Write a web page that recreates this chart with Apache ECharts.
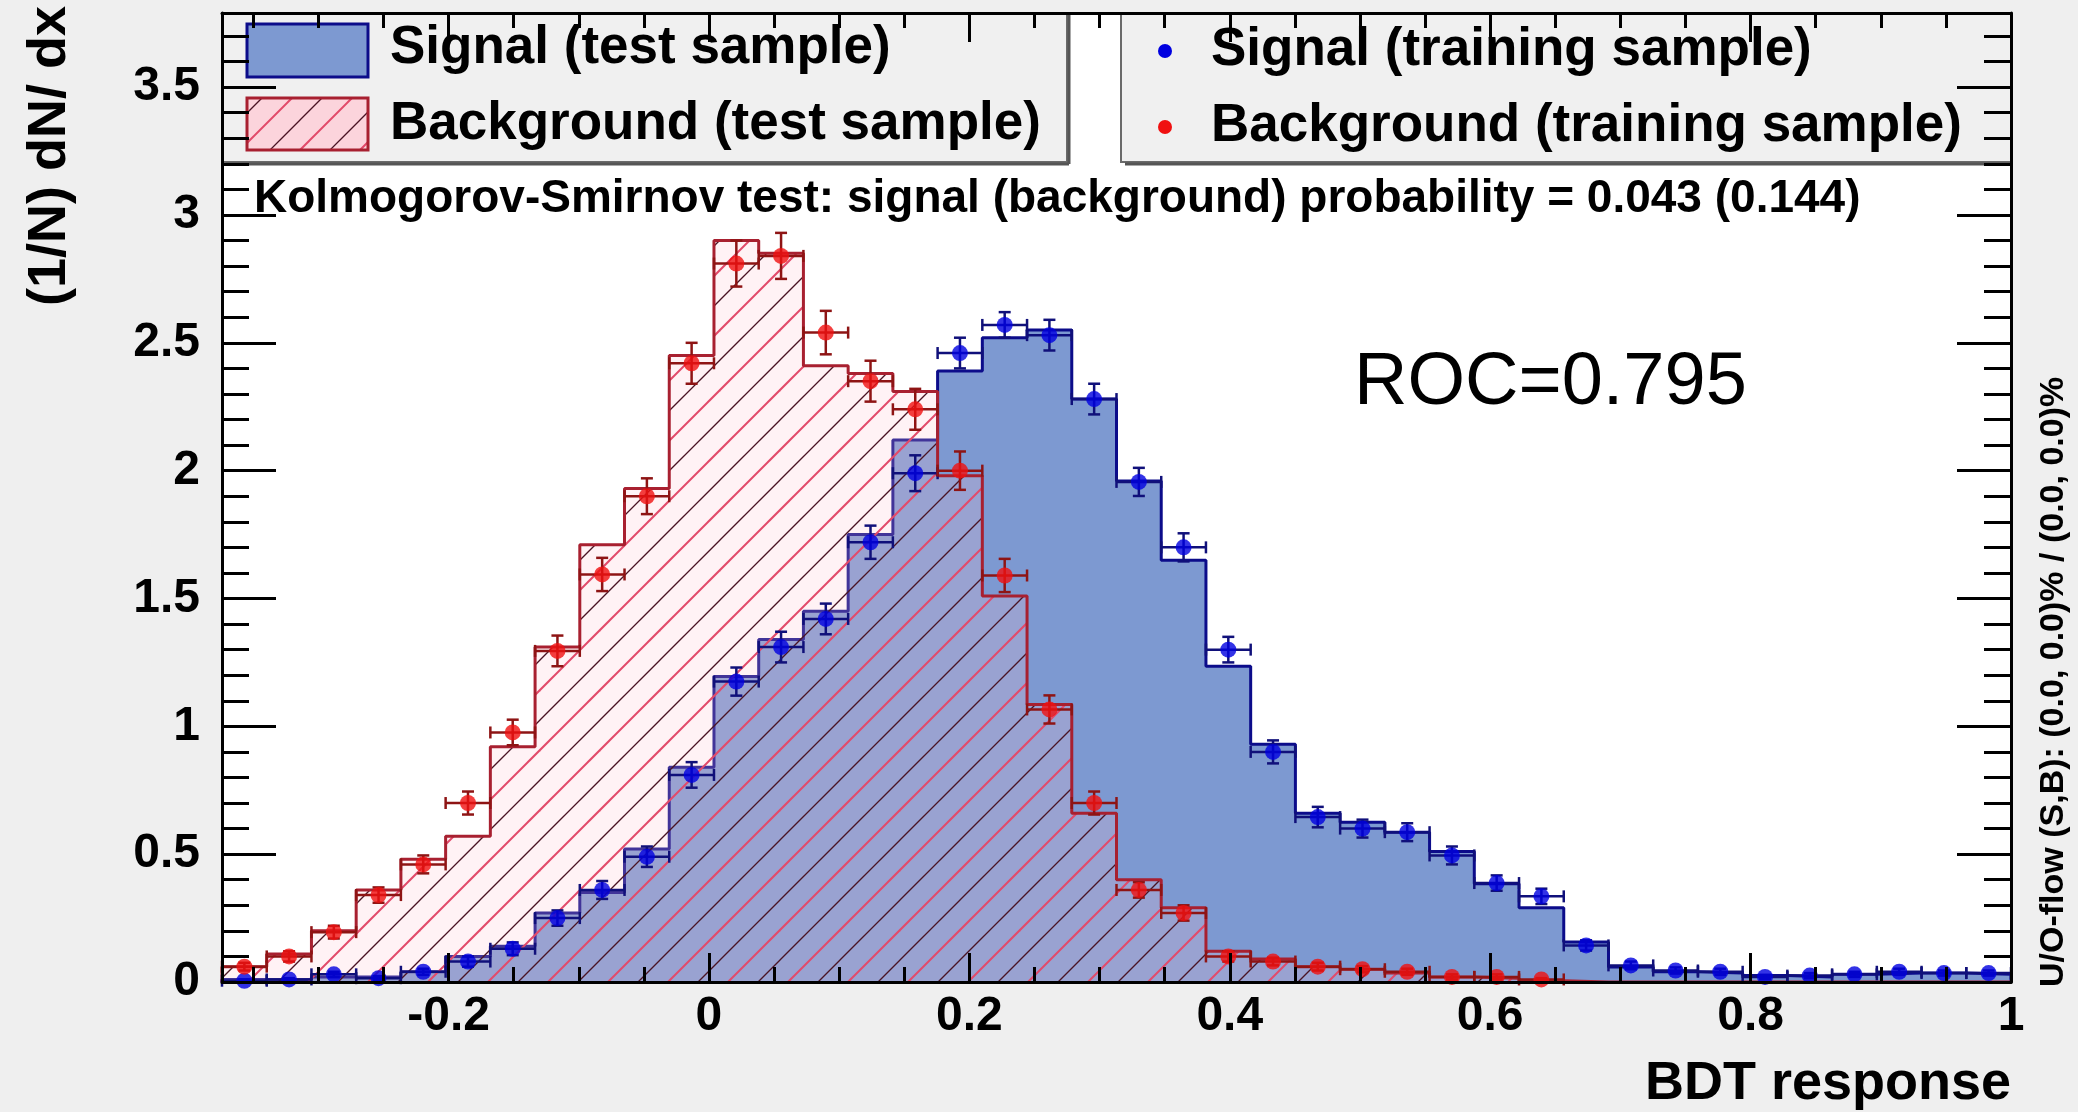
<!DOCTYPE html>
<html><head><meta charset="utf-8">
<script src="https://cdn.jsdelivr.net/npm/echarts@6/dist/echarts.min.js"></script>
<style>html,body{margin:0;padding:0;background:#efefef;}#c{width:2078px;height:1112px;}</style>
</head><body><div id="c"></div>
<script>
// ---------- data ----------
const XMIN = -0.374, XMAX = 1.0, NBINS = 40;
const YMIN = 0, YMAX = 3.79;
const xMajorTicks = [-0.2, 0, 0.2, 0.4, 0.6, 0.8, 1];
const xMinorTicks = [-0.35, -0.3, -0.25, -0.15, -0.1, -0.05, 0.05, 0.1, 0.15, 0.25, 0.3, 0.35, 0.45, 0.5, 0.55, 0.65, 0.7, 0.75, 0.85, 0.9, 0.95];
const yMajorTicks = [0, 0.5, 1, 1.5, 2, 2.5, 3, 3.5];
const yMinorTicks = [0.1, 0.2, 0.3, 0.4, 0.6, 0.7, 0.8, 0.9, 1.1, 1.2, 1.3, 1.4, 1.6, 1.7, 1.8, 1.9, 2.1, 2.2, 2.3, 2.4, 2.6, 2.7, 2.8, 2.9, 3.1, 3.2, 3.3, 3.4, 3.6, 3.7];

// Signal (test sample) histogram, 40 bins
const sigHist = [0.01, 0.01, 0.02, 0.02, 0.04, 0.10, 0.14, 0.27, 0.35, 0.52,
                 0.84, 1.195, 1.34, 1.45, 1.75, 2.12, 2.39, 2.52, 2.55, 2.28,
                 1.96, 1.65, 1.235, 0.93, 0.66, 0.625, 0.586, 0.51, 0.384, 0.29,
                 0.156, 0.059, 0.04, 0.035, 0.025, 0.02, 0.03, 0.035, 0.035, 0.03];
// Background (test sample) histogram
const bkgHist = [0.06, 0.11, 0.20, 0.36, 0.48, 0.57, 0.92, 1.31, 1.71, 1.93,
                 2.45, 2.90, 2.85, 2.41, 2.38, 2.31, 1.98, 1.51, 1.085, 0.66,
                 0.40, 0.29, 0.12, 0.09, 0.06, 0.05, 0.035, 0.02, 0.015, 0.005,
                 0, 0, 0, 0, 0, 0, 0, 0, 0, 0];
// Signal (training sample) points and errors
const sigPts = [0.005, 0.01, 0.03, 0.015, 0.04, 0.08, 0.13, 0.25, 0.36, 0.49,
                0.81, 1.175, 1.31, 1.42, 1.72, 1.99, 2.46, 2.57, 2.53, 2.28,
                1.956, 1.70, 1.30, 0.90, 0.645, 0.60, 0.586, 0.495, 0.387, 0.335,
                0.143, 0.065, 0.045, 0.04, 0.02, 0.025, 0.03, 0.04, 0.035, 0.035];
const sigErr = [0.005, 0.005, 0.01, 0.008, 0.012, 0.02, 0.025, 0.03, 0.035, 0.04,
                0.05, 0.055, 0.06, 0.06, 0.065, 0.07, 0.06, 0.05, 0.06, 0.06,
                0.055, 0.055, 0.05, 0.045, 0.04, 0.035, 0.035, 0.035, 0.03, 0.03,
                0.02, 0.015, 0.012, 0.012, 0.008, 0.01, 0.01, 0.012, 0.01, 0.01];
// Background (training sample) points and errors (null = empty bin)
const bkgPts = [0.06, 0.10, 0.195, 0.34, 0.46, 0.70, 0.976, 1.295, 1.594, 1.90,
                2.42, 2.81, 2.84, 2.54, 2.35, 2.24, 2.00, 1.59, 1.066, 0.70,
                0.36, 0.27, 0.10, 0.08, 0.06, 0.05, 0.04, 0.02, 0.02, 0.01,
                null, null, null, null, null, null, null, null, null, null];
const bkgErr = [0.015, 0.02, 0.025, 0.03, 0.035, 0.045, 0.05, 0.06, 0.065, 0.07,
                0.08, 0.09, 0.09, 0.085, 0.08, 0.08, 0.075, 0.065, 0.055, 0.045,
                0.03, 0.03, 0.02, 0.015, 0.015, 0.012, 0.012, 0.01, 0.01, 0.005,
                0, 0, 0, 0, 0, 0, 0, 0, 0, 0];

const legendTest = ['Signal (test sample)', 'Background (test sample)'];
const legendTrain = ['Signal (training sample)', 'Background (training sample)'];
const ksText = 'Kolmogorov-Smirnov test: signal (background) probability = 0.043 (0.144)';
const rocText = 'ROC=0.795';
const xTitle = 'BDT response';
const yTitle = '(1/N) dN/ dx';
const flowText = 'U/O-flow (S,B): (0.0, 0.0)% / (0.0, 0.0)%';

// ---------- derived ----------
const BW = (XMAX - XMIN) / NBINS;
const edges = Array.from({length: NBINS + 1}, (_, k) => XMIN + k * BW);
const centers = Array.from({length: NBINS}, (_, k) => XMIN + (k + 0.5) * BW);
function histLine(vals) {
  const d = [[edges[0], 0]];
  vals.forEach((v, i) => d.push([edges[i], v]));
  d.push([edges[NBINS], vals[NBINS - 1]]);
  d.push([edges[NBINS], 0]);
  return d;
}
function pts(vals, errs) {
  const out = [];
  vals.forEach((v, i) => { if (v !== null) out.push([centers[i], v, errs[i]]); });
  return out;
}

const FONT = '"Liberation Sans", Arial, Helvetica, sans-serif';
const SIG_FILL = '#7d99d1', SIG_LINE = '#0c0c8a', SIG_MARK = '#0000e0', SIG_ERR = '#10107a';
const BKG_LINE = '#a82030', BKG_MARK = '#f01010', BKG_ERR = '#8e1414';

function makeHatch(tint) {
  const T = 60, c = document.createElement('canvas');
  c.width = T; c.height = T;
  const g = c.getContext('2d');
  if (tint) { g.fillStyle = tint; g.fillRect(0, 0, T, T); }
  const lines = [[0, '#4a1424', 1.3], [30, '#e24a6a', 2.0], [60, '#4a1424', 1.3], [90, '#e24a6a', 2.0], [120, '#4a1424', 1.3]];
  for (const [cc, col, w] of lines) {
    g.strokeStyle = col; g.lineWidth = w;
    g.beginPath(); g.moveTo(-6, cc + 6); g.lineTo(T + 6, cc - T - 6); g.stroke();
  }
  return c;
}
const hatch = makeHatch('rgba(255,195,210,0.22)');
const hatchLegend = makeHatch('rgba(255,205,215,0.8)');

function errRender(color) {
  return function (params, api) {
    const x = api.value(0), y = api.value(1), e = api.value(2);
    const c = api.coord([x, y]);
    const l = api.coord([x - BW / 2, y]), r = api.coord([x + BW / 2, y]);
    const t = api.coord([x, y + e]), b = api.coord([x, Math.max(0, y - e)]);
    const cap = 6;
    const st = {stroke: color, lineWidth: 2.5};
    const ch = [
      {type: 'line', shape: {x1: l[0], y1: c[1], x2: r[0], y2: c[1]}, style: st},
      {type: 'line', shape: {x1: l[0], y1: c[1] - cap, x2: l[0], y2: c[1] + cap}, style: st},
      {type: 'line', shape: {x1: r[0], y1: c[1] - cap, x2: r[0], y2: c[1] + cap}, style: st}
    ];
    if (e > 0) {
      ch.push({type: 'line', shape: {x1: c[0], y1: t[1], x2: c[0], y2: b[1]}, style: st});
      ch.push({type: 'line', shape: {x1: c[0] - cap, y1: t[1], x2: c[0] + cap, y2: t[1]}, style: st});
      ch.push({type: 'line', shape: {x1: c[0] - cap, y1: b[1], x2: c[0] + cap, y2: b[1]}, style: st});
    }
    return {type: 'group', children: ch};
  };
}

const black = {color: '#000', width: 3};
function xAx(pos, ticks, len, withLine, withLabels) {
  return {
    type: 'value', min: XMIN, max: XMAX, position: pos, z: 10,
    axisLine: {show: withLine, onZero: false, lineStyle: black},
    axisTick: {show: true, inside: true, length: len, customValues: ticks, lineStyle: black},
    axisLabel: withLabels ? {show: true, customValues: ticks, formatter: v => String(v),
      fontFamily: FONT, fontWeight: 'bold', fontSize: 48, color: '#000', margin: 11} : {show: false},
    splitLine: {show: false}, minorTick: {show: false}
  };
}
function yAx(pos, ticks, len, withLine, withLabels) {
  return {
    type: 'value', min: YMIN, max: YMAX, position: pos, z: 10,
    axisLine: {show: withLine, onZero: false, lineStyle: black},
    axisTick: {show: true, inside: true, length: len, customValues: ticks, lineStyle: black},
    axisLabel: withLabels ? {show: true, customValues: ticks, formatter: v => String(v),
      fontFamily: FONT, fontWeight: 'bold', fontSize: 48, color: '#000', margin: 22} : {show: false},
    splitLine: {show: false}, minorTick: {show: false}
  };
}

const chart = echarts.init(document.getElementById('c'), null, {renderer: 'canvas', width: 2078, height: 1112});

const LX0 = 222, LX1 = 1067, RX0 = 1121, RX1 = 2011, LY0 = 13, LY1 = 162;
const txt = (x, y, s, size, opts) => Object.assign({
  type: 'text', x: x, y: y, z: 20,
  style: {text: s, font: `bold ${size}px ${FONT}`, fill: '#000', align: 'left', verticalAlign: 'middle'}
}, opts || {});

chart.setOption({
  animation: false,
  backgroundColor: '#efefef',
  grid: {left: 222, right: 67, top: 13, bottom: 130, show: true, backgroundColor: '#ffffff', borderWidth: 0, containLabel: false},
  xAxis: [
    xAx('bottom', xMajorTicks, 29, true, true),
    xAx('bottom', xMinorTicks, 15, false, false),
    xAx('top', xMajorTicks, 29, true, false),
    xAx('top', xMinorTicks, 15, false, false)
  ],
  yAxis: [
    yAx('left', yMajorTicks, 54, true, true),
    yAx('left', yMinorTicks, 27, false, false),
    yAx('right', yMajorTicks, 54, true, false),
    yAx('right', yMinorTicks, 27, false, false)
  ],
  series: [
    {type: 'line', name: legendTest[0], data: histLine(sigHist), step: 'end', symbol: 'none', z: 2,
     lineStyle: {color: SIG_LINE, width: 3}, areaStyle: {color: SIG_FILL, opacity: 1}},
    {type: 'line', name: legendTest[1], data: histLine(bkgHist), step: 'end', symbol: 'none', z: 3,
     lineStyle: {color: BKG_LINE, width: 3}, areaStyle: {color: {image: hatch, repeat: 'repeat'}, opacity: 1}},
    {type: 'custom', name: legendTrain[0] + ' err', data: pts(sigPts, sigErr), renderItem: errRender(SIG_ERR), z: 4},
    {type: 'scatter', name: legendTrain[0], data: pts(sigPts, sigErr), symbol: 'circle', symbolSize: 16, z: 5,
     itemStyle: {color: SIG_MARK}},
    {type: 'custom', name: legendTrain[1] + ' err', data: pts(bkgPts, bkgErr), renderItem: errRender(BKG_ERR), z: 4},
    {type: 'scatter', name: legendTrain[1], data: pts(bkgPts, bkgErr), symbol: 'circle', symbolSize: 16, z: 5,
     itemStyle: {color: BKG_MARK}}
  ],
  graphic: [
    // legend boxes
    {type: 'rect', z: 8, shape: {x: LX0, y: LY0, width: LX1 - LX0, height: LY1 - LY0}, style: {fill: '#f0f0f0', stroke: '#6a6a6a', lineWidth: 2}},
    {type: 'line', z: 8, shape: {x1: LX0 + 4, y1: LY1 + 2, x2: LX1 + 2, y2: LY1 + 2}, style: {stroke: '#555', lineWidth: 3}},
    {type: 'line', z: 8, shape: {x1: LX1 + 2, y1: LY0, x2: LX1 + 2, y2: LY1 + 2}, style: {stroke: '#555', lineWidth: 3}},
    {type: 'rect', z: 8, shape: {x: RX0, y: LY0, width: RX1 - RX0, height: LY1 - LY0}, style: {fill: '#f0f0f0', stroke: '#6a6a6a', lineWidth: 2}},
    {type: 'line', z: 8, shape: {x1: RX0 + 4, y1: LY1 + 2, x2: RX1, y2: LY1 + 2}, style: {stroke: '#555', lineWidth: 3}},
    // legend symbols
    {type: 'rect', z: 9, shape: {x: 247, y: 24, width: 121, height: 53}, style: {fill: SIG_FILL, stroke: SIG_LINE, lineWidth: 3}},
    {type: 'rect', z: 9, shape: {x: 247, y: 98, width: 121, height: 52}, style: {fill: {image: hatchLegend, repeat: 'repeat'}, stroke: BKG_LINE, lineWidth: 3}},
    {type: 'circle', z: 9, shape: {cx: 1165, cy: 51, r: 7}, style: {fill: SIG_MARK}},
    {type: 'circle', z: 9, shape: {cx: 1165, cy: 127, r: 7}, style: {fill: BKG_MARK}},
    txt(390, 48, legendTest[0], 53),
    txt(390, 124, legendTest[1], 53),
    txt(1211, 50, legendTrain[0], 53),
    txt(1211, 126, legendTrain[1], 53),
    // KS text
    txt(254, 199, ksText, 46),
    // ROC
    {type: 'text', x: 1354, y: 384, z: 20, style: {text: rocText, font: `74px ${FONT}`, fill: '#000', align: 'left', verticalAlign: 'middle'}},
    // axis titles
    {type: 'text', x: 2011, y: 1084, z: 20, style: {text: xTitle, font: `bold 54px ${FONT}`, fill: '#000', align: 'right', verticalAlign: 'middle'}},
    {type: 'text', x: 50, y: 6, rotation: Math.PI / 2, z: 20,
     style: {text: yTitle, font: `bold 54px ${FONT}`, fill: '#000', align: 'right', verticalAlign: 'middle'}},
    {type: 'text', x: 2054, y: 987, rotation: Math.PI / 2, z: 20,
     style: {text: flowText, font: `bold 34px ${FONT}`, fill: '#000', align: 'left', verticalAlign: 'middle'}}
  ]
});
</script></body></html>
